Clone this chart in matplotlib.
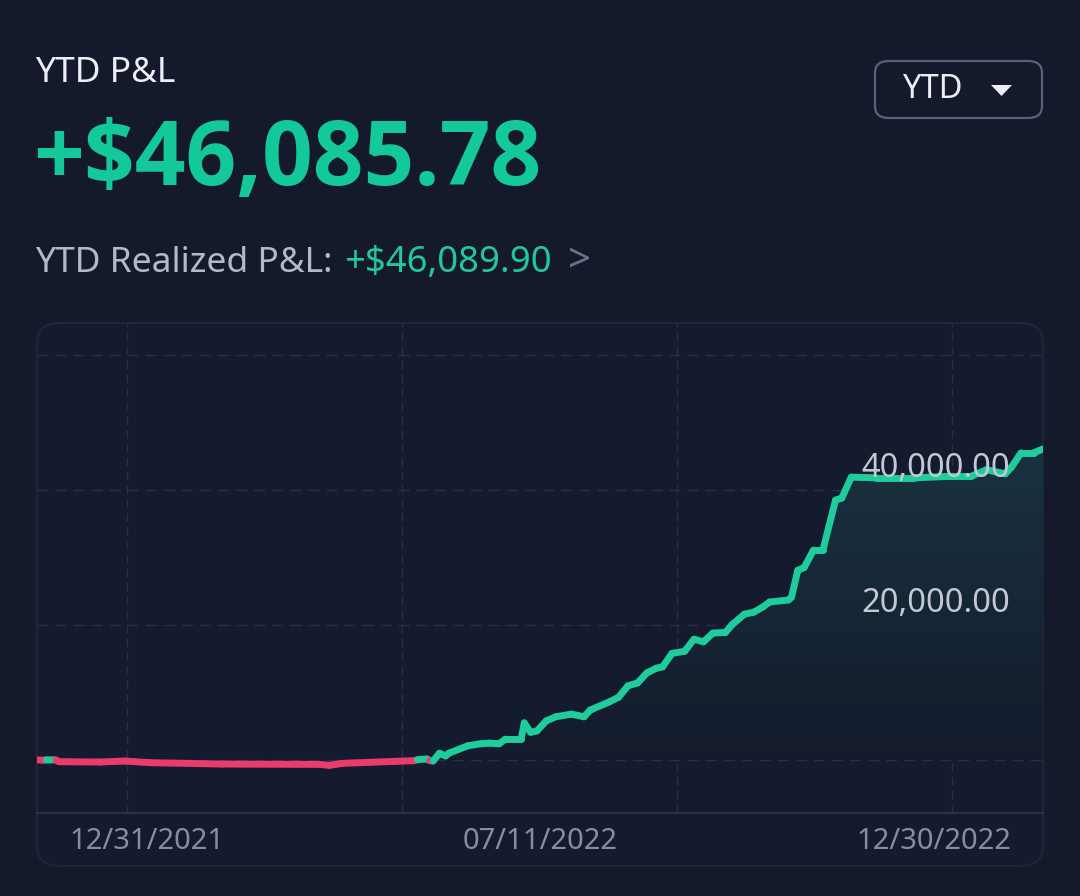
import numpy as np
import matplotlib
matplotlib.use("Agg")
import matplotlib.pyplot as plt
from matplotlib.collections import LineCollection
from matplotlib.patches import FancyBboxPatch, Polygon, PathPatch
from matplotlib.path import Path
from matplotlib.colors import LinearSegmentedColormap

plt.rcParams['font.family'] = ['Noto Sans', 'DejaVu Sans']

# trading-day index and cumulative P&L
days = [0, 2, 3, 6, 7, 20, 28, 31, 36, 59, 90, 93, 97, 114, 120, 121, 124, 125,
        126, 128, 130, 131, 137, 141, 144, 147, 149, 154, 155, 157, 159, 162,
        165, 170, 174, 176, 182, 185, 188, 191, 194, 197, 199, 202, 206, 209,
        212, 215, 219, 221, 225, 228, 231, 233, 239, 240, 242, 244, 247, 250,
        254, 256, 259, 267, 279, 289, 297, 302, 308, 310, 313, 317, 320]
pnl = [20, -30, 20, 10, -250, -300, -150, -250, -400, -600, -650, -800, -500,
       -200, -100, 50, 150, -100, -150, 1000, 600, 1000, 2100, 2400, 2500, 2400,
       3100, 3100, 5500, 4100, 4300, 5800, 6400, 6800, 6400, 7400, 8600, 9300,
       11000, 11400, 12900, 13600, 13800, 15800, 16100, 17900, 17500, 18800,
       18900, 20000, 21600, 21900, 22700, 23400, 23700, 24100, 28100, 28500,
       31100, 31100, 38500, 38800, 41900, 41800, 41800, 42000, 42000, 43000,
       42400, 43400, 45500, 45500, 46085]

grid_days = [28.6, 116.1, 203.5, 291.0]
y_ticks = [20000, 40000]
x_labels = ['12/31/2021', '07/11/2022', '12/30/2022']

title = 'YTD P&L'
headline = '+$46,085.78'
realized_label = 'YTD Realized P&L: '
realized_value = '+$46,089.90'

BG = '#141a2c'
GREEN = '#1ecc9c'
RED = '#ec3a6b'
GRID = '#283045'

W, H = 1080, 896
fig = plt.figure(figsize=(W / 100, H / 100), dpi=100, facecolor=BG)


def fx(px):
    return px / W


def fy(py):
    return 1 - py / H


# header texts
fig.text(fx(35), fy(73), title, color='#eceef3', fontsize=25.5, va='center', ha='left')
fig.text(fx(33), fy(162), headline, color='#13c99a', fontsize=64, fontweight='bold',
         family=['Open Sans', 'DejaVu Sans'], va='center', ha='left')
t = fig.text(fx(35), fy(263), realized_label, color='#b4b8c8', fontsize=25.5,
             va='center', ha='left')
fig.canvas.draw()
bb = t.get_window_extent()
fig.text(bb.x1 / W + 0.002, fy(263), realized_value, color='#22c79c', fontsize=26.3,
         va='center', ha='left')
fig.text(fx(568), fy(262), '>', color='#6d7386', fontsize=29, fontweight='light',
         va='center', ha='left')

# YTD dropdown button
btn = FancyBboxPatch((fx(875), fy(118)), fx(1042) - fx(875), fy(61) - fy(118),
                     boxstyle='round,pad=0,rounding_size=0.013',
                     transform=fig.transFigure, facecolor='none',
                     edgecolor='#5b6275', linewidth=1.6)
fig.patches.append(btn)
fig.text(fx(902), fy(90), 'YTD', color='#eceef3', fontsize=23.5, va='center', ha='left')
tri = Polygon([[fx(991), fy(85)], [fx(1012), fy(85)], [fx(1001.5), fy(96)]],
              closed=True, transform=fig.transFigure, facecolor='#eceef3',
              edgecolor='none')
fig.patches.append(tri)

# chart panel (behind the axes)
panel = FancyBboxPatch((fx(37), fy(866)), fx(1043) - fx(37), fy(323) - fy(866),
                       boxstyle='round,pad=0,rounding_size=0.022',
                       transform=fig.transFigure, facecolor='#151b2e',
                       edgecolor='#1f2638', linewidth=1.5, zorder=-5)
fig.patches.append(panel)

ax = fig.add_axes([fx(37), fy(813), fx(1043) - fx(37), fy(323) - fy(813)])
ax.set_zorder(2)
ax.set_facecolor('none')
for s in ['top', 'left', 'right']:
    ax.spines[s].set_visible(False)
ax.spines['bottom'].set_color('#2c3348')
ax.spines['bottom'].set_linewidth(1.5)
ax.set_xticks([])
ax.set_yticks([])

for g in grid_days:
    ax.axvline(g, color=GRID, lw=1, ls=(0, (6, 4)), zorder=1)
for v in [0, 20000, 40000, 60000]:
    ax.axhline(v, color=GRID, lw=1, ls=(0, (8, 5)), zorder=1)

x = np.array(days, dtype=float)
y = np.array(pnl, dtype=float)

# gradient fill under the positive part
poly = ax.fill_between(x, y, 0, where=y > 0, interpolate=True, color='none')
cmap = LinearSegmentedColormap.from_list('g', ['#141b2d', '#19323f'])
grad = np.linspace(0, 1, 256).reshape(-1, 1)
im = ax.imshow(grad, extent=[0, 320, 0, 46085], origin='lower', aspect='auto',
               cmap=cmap, zorder=2)
paths = poly.get_paths()
clip = PathPatch(Path.make_compound_path(*paths), transform=ax.transData,
                 facecolor='none', edgecolor='none')
ax.add_patch(clip)
im.set_clip_path(clip)
ax.set_xlim(0, 320)
ax.set_ylim(-(813 - 760) / 135 * 20000, (760 - 323) / 135 * 20000)

# line colored by sign
pts = np.column_stack([x, y]).reshape(-1, 1, 2)
segs = np.concatenate([pts[:-1], pts[1:]], axis=1)
mid = (y[:-1] + y[1:]) / 2
colors = [GREEN if m >= 0 else RED for m in mid]
lc = LineCollection(segs, colors=colors, linewidths=5, capstyle='round',
                    joinstyle='round', zorder=3)
ax.add_collection(lc)

# y labels above grid lines
for v in y_ticks:
    ax.annotate(f'{v:,.2f}', xy=(1, v), xycoords=('axes fraction', 'data'),
                xytext=(-33, 5), textcoords='offset pixels', ha='right', va='bottom',
                color='#c4c8d3', fontsize=23.5, zorder=4)

# x labels
for px, lab in zip([147, 540, 934], x_labels):
    fig.text(fx(px), fy(841), lab, color='#878ca0', fontsize=21, ha='center',
             va='center')

fig.savefig('out.png', dpi=100, facecolor=BG)
